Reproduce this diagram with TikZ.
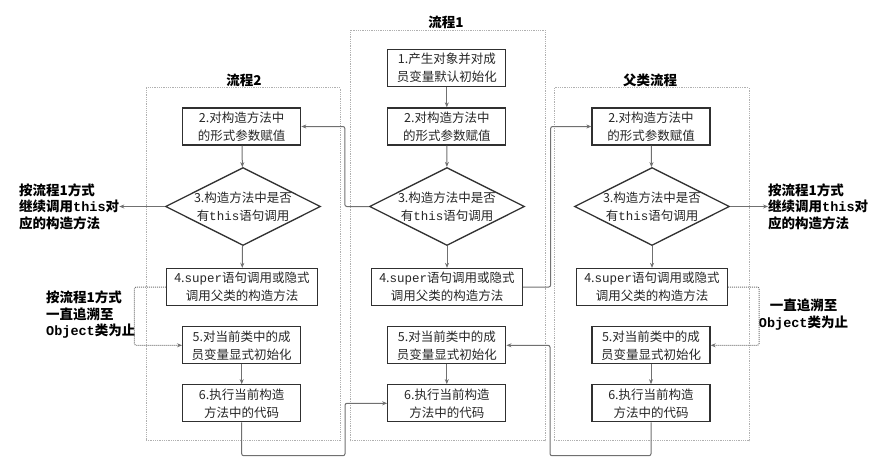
\documentclass[tikz,border=0pt]{standalone}
\usepackage{fontspec}
\setmainfont{Noto Sans CJK SC}
\newfontfamily\monof{Liberation Mono}
\usetikzlibrary{shapes.geometric,arrows.meta}
\definecolor{boxline}{HTML}{303030}
\definecolor{connline}{HTML}{707070}
\definecolor{panelline}{HTML}{B0B0B0}
\tikzset{
  stepbox/.style={draw=boxline, line width=1.3pt, minimum width=118pt, minimum height=37pt,
    inner sep=0pt, align=center, text=black!85, font=\fontsize{12.5}{18}\selectfont},
  widebox/.style={stepbox, minimum width=151pt},
  decide/.style={diamond, draw=boxline, line width=1.3pt, minimum width=155pt, minimum height=78pt, inner sep=0pt},
  dtext/.style={align=center, inner sep=0pt, text=black!85, font=\fontsize{12.5}{18}\selectfont},
  conn/.style={draw=connline, line width=1pt, rounded corners=2pt, -{Stealth[length=5pt,width=4pt]}},
  dotconn/.style={draw=connline, line width=1pt, densely dotted, rounded corners=2pt, -{Stealth[length=5pt,width=4pt]}},
  panel/.style={draw=panelline, densely dotted, line width=0.8pt, inner sep=0pt},
  ptitle/.style={font=\bfseries\fontsize{13.5}{16}\selectfont, inner sep=0pt},
  note/.style={font=\bfseries\fontsize{13.5}{16.5}\selectfont, inner sep=0pt}
}
\begin{document}
\begin{tikzpicture}[x=1pt,y=-1pt]
\useasboundingbox (0,0) rectangle (875,469);
% panels
\node[panel, minimum width=194pt, minimum height=353pt] (P2) at (243,264.2) {};
\node[panel, minimum width=195pt, minimum height=410.7pt] (P1) at (447.5,235.35) {};
\node[panel, minimum width=195pt, minimum height=353pt] (PF) at (651.5,264.2) {};
\node[ptitle] (T2) at (244,80) {流程2};
\node[ptitle] (T1) at (446,22) {流程1};
\node[ptitle] (TF) at (650,80) {父类流程};
% left column (流程2)
\node[stepbox] (L2) at (241.7,126.5) {2.对构造方法中\\的形式参数赋值};
\node[decide] (L3) at (243,206.5) {};
\node[dtext] (L3t) at (243,206.5) {3.构造方法中是否\\有{\monof this}语句调用};
\node[widebox] (L4) at (242,287) {4.{\monof super}语句调用或隐式\\调用父类的构造方法};
\node[stepbox] (L5) at (241.7,345.3) {5.对当前类中的成\\员变量显式初始化};
\node[stepbox] (L6) at (241.7,403.3) {6.执行当前构造\\方法中的代码};
% middle column (流程1)
\node[stepbox] (M1) at (446.8,68) {1.产生对象并对成\\员变量默认初始化};
\node[stepbox] (M2) at (446.8,126.5) {2.对构造方法中\\的形式参数赋值};
\node[decide] (M3) at (447,206.5) {};
\node[dtext] (M3t) at (447,206.5) {3.构造方法中是否\\有{\monof this}语句调用};
\node[widebox] (M4) at (447,287) {4.{\monof super}语句调用或隐式\\调用父类的构造方法};
\node[stepbox] (M5) at (446.8,345.3) {5.对当前类中的成\\员变量显式初始化};
\node[stepbox] (M6) at (446.8,403.3) {6.执行当前构造\\方法中的代码};
% right column (父类流程)
\node[stepbox] (R2) at (651,126.5) {2.对构造方法中\\的形式参数赋值};
\node[decide] (R3) at (652,206.5) {};
\node[dtext] (R3t) at (652,206.5) {3.构造方法中是否\\有{\monof this}语句调用};
\node[widebox] (R4) at (652,287) {4.{\monof super}语句调用或隐式\\调用父类的构造方法};
\node[stepbox] (R5) at (651,345.3) {5.对当前类中的成\\员变量显式初始化};
\node[stepbox] (R6) at (651,403.3) {6.执行当前构造\\方法中的代码};
% notes
\node[note, align=left, anchor=west] (NL1) at (19,206.5) {按流程1方式\\继续调用{\monof this}对\\应的构造方法};
\node[note, align=left, anchor=west] (NR1) at (768,206.5) {按流程1方式\\继续调用{\monof this}对\\应的构造方法};
\node[note, align=left, anchor=west] (NL2) at (46,315) {按流程1方式\\一直追溯至\\{\monof Object}类为止};
\node[note, align=center] (NR2) at (803.5,314.5) {一直追溯至\\{\monof Object}类为止};
% vertical flow
\draw[conn] (L2) -- (L3);
\draw[conn] (L3) -- (L4);
\draw[conn] (L5) -- (L6);
\draw[conn] (M1) -- (M2);
\draw[conn] (M2) -- (M3);
\draw[conn] (M3) -- (M4);
\draw[conn] (M5) -- (M6);
\draw[conn] (R2) -- (R3);
\draw[conn] (R3) -- (R4);
\draw[conn] (R5) -- (R6);
% branches
\draw[conn] (L3.west) -- (NL1.east |- L3.west);
\draw[conn] (R3.east) -- (NR1.west |- R3.east);
\draw[conn] (M3.west) -- ++(-24,0) |- (L2.east);
\draw[conn] (M4.east) -- ++(27.5,0) |- (R2.west);
\coordinate (JL) at (345,455.7);
\coordinate (JR) at (550,455.7);
\draw[conn] (L6.south) |- (JL) |- (M6.west);
\draw[conn] (R6.south) |- (JR) |- (M5.east);
\draw[dotconn] (L4.west) -- ++(-31.5,0) |- (L5.west);
\draw[dotconn] (R4.east) -- ++(31,0) |- (R5.east);
\end{tikzpicture}
\end{document}
